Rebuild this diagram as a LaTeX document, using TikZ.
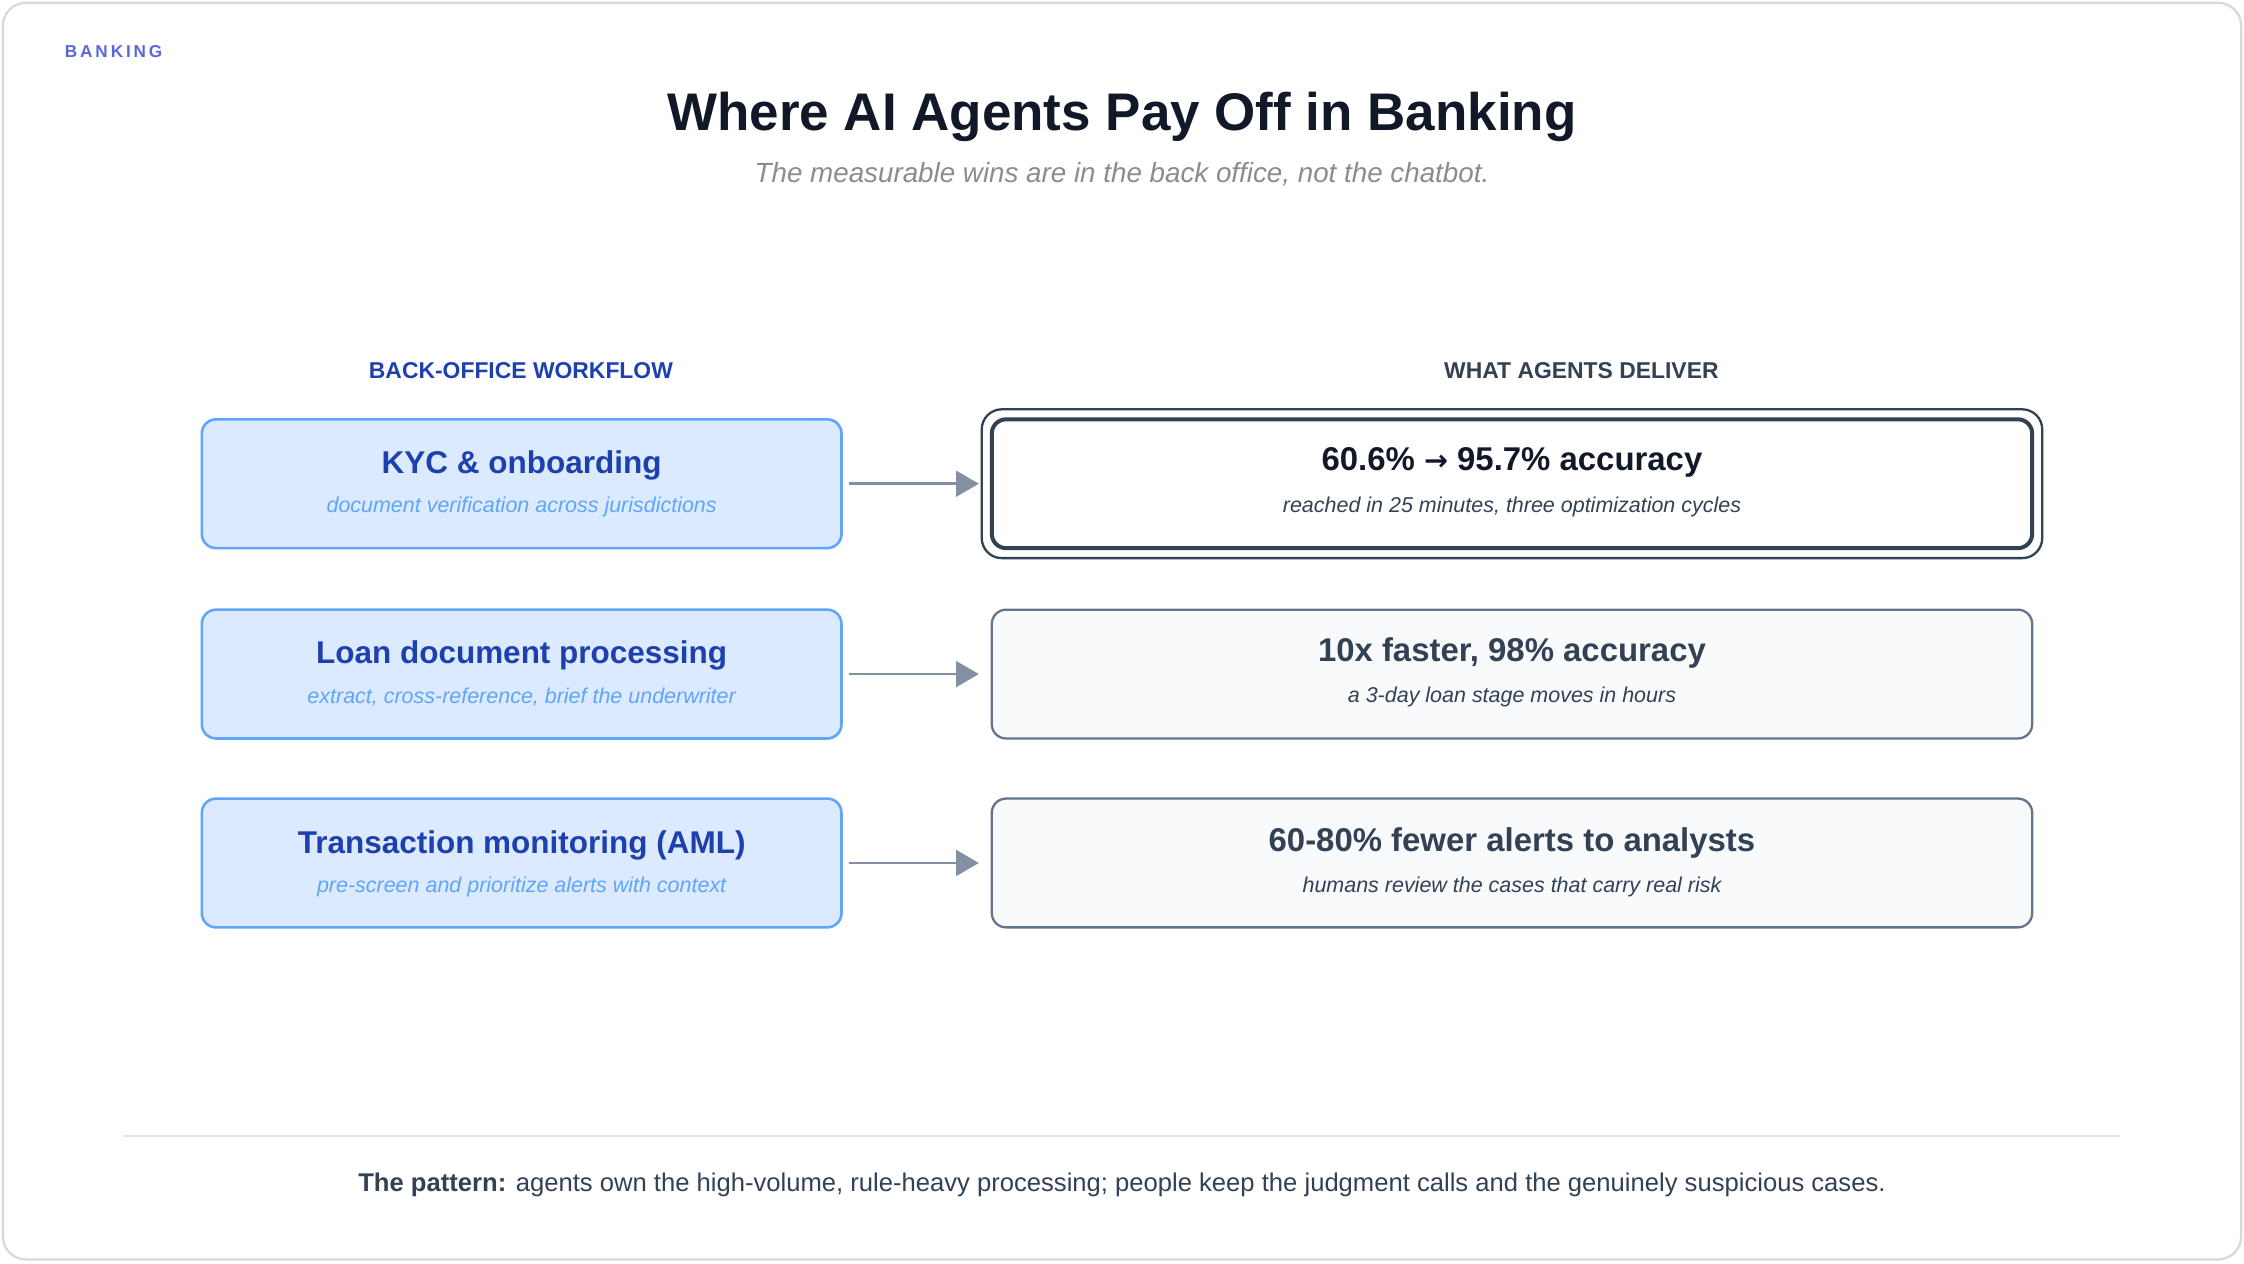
\documentclass[tikz,border=0pt]{standalone}
\usepackage{fontspec}
\setmainfont{Liberation Sans}
\newfontfamily\dvs{DejaVu Sans}
\usetikzlibrary{arrows.meta}
\definecolor{lblue}{HTML}{DBEAFE}
\definecolor{mblue}{HTML}{60A5FA}
\definecolor{dblue}{HTML}{1E40AF}
\definecolor{slate}{HTML}{334155}
\definecolor{gbox}{HTML}{F8FAFC}
\definecolor{gline}{HTML}{64748B}
\definecolor{ink}{HTML}{111827}
\begin{document}
\begin{tikzpicture}[x=0.5pt,y=-0.5pt,
 lbox/.style={draw=mblue,line width=0.9pt,fill=lblue,rounded corners=5pt,minimum width=223.5pt,minimum height=45pt},
 rbox/.style={draw=gline,line width=0.8pt,fill=gbox,rounded corners=5pt,minimum width=363.5pt,minimum height=45pt},
 ltitle/.style={font=\fontsize{11}{13}\selectfont\bfseries,text=dblue},
 lsub/.style={font=\fontsize{7.5}{9}\selectfont\itshape,text=mblue},
 rtitle/.style={font=\fontsize{11.5}{13}\selectfont\bfseries,text=slate},
 rsub/.style={font=\fontsize{7.5}{9}\selectfont\itshape,text=slate},
 arr/.style={draw=gline!80,line width=1pt,-{Triangle[length=8pt,width=9pt]}},
 hdr/.style={font=\fontsize{8}{10}\selectfont\bfseries}]
\useasboundingbox (0,0) rectangle (1568,883);
\draw[draw=black!15,line width=0.8pt,rounded corners=8pt,fill=white] (2,2) rectangle (1566,880);
\node[anchor=west,font=\fontsize{6}{7}\selectfont\bfseries,text=dblue!60!blue!70,inner sep=0] (bk) at (45,36) {B\,A\,N\,K\,I\,N\,G};
\node[font=\fontsize{18.5}{21}\selectfont\bfseries,text=ink] (title) at (784,82) {Where AI Agents Pay Off in Banking};
\node[font=\fontsize{9.7}{11}\selectfont\itshape,text=black!45] (subt) at (784,122) {The measurable wins are in the back office, not the chatbot.};
\node[hdr,text=dblue] (h1) at (364,259) {BACK-OFFICE WORKFLOW};
\node[hdr,text=slate] (h2) at (1105,259) {WHAT AGENTS DELIVER};

\node[lbox] (l1) at (364.5,338) {};
\node[ltitle] at (364.5,325) {KYC \& onboarding};
\node[lsub] at (364.5,354) {document verification across jurisdictions};
\node[lbox] (l2) at (364.5,471) {};
\node[ltitle] at (364.5,458) {Loan document processing};
\node[lsub] at (364.5,487) {extract, cross-reference, brief the underwriter};
\node[lbox] (l3) at (364.5,603) {};
\node[ltitle] at (364.5,591) {Transaction monitoring (AML)};
\node[lsub] at (364.5,620) {pre-screen and prioritize alerts with context};

\draw[draw=slate,line width=0.8pt,rounded corners=7pt] (686,286) rectangle (1427,390);
\node[rbox,draw=slate,line width=1.4pt,fill=white] (r1) at (1056.5,338) {};
\node[rtitle,text=ink] at (1056.5,323) {60.6\% {\dvs\fontsize{10}{12}\selectfont →} 95.7\% accuracy};
\node[rsub] at (1056.5,354) {reached in 25 minutes, three optimization cycles};
\node[rbox] (r2) at (1056.5,471) {};
\node[rtitle] at (1056.5,456) {10x faster, 98\% accuracy};
\node[rsub] at (1056.5,487) {a 3-day loan stage moves in hours};
\node[rbox] (r3) at (1056.5,603) {};
\node[rtitle] at (1056.5,589) {60-80\% fewer alerts to analysts};
\node[rsub] at (1056.5,620) {humans review the cases that carry real risk};

\coordinate (a1) at (684,338); \coordinate (a2) at (684,471); \coordinate (a3) at (684,603);
\draw[arr] ([xshift=2pt]l1.east) -- (a1);
\draw[arr] ([xshift=2pt]l2.east) -- (a2);
\draw[arr] ([xshift=2pt]l3.east) -- (a3);

\draw[black!10,line width=0.6pt] (86,794) -- (1481,794);
\node[font=\fontsize{8.95}{10}\selectfont,text=slate] (foot) at (784,828) {\textbf{The pattern:} agents own the high-volume, rule-heavy processing; people keep the judgment calls and the genuinely suspicious cases.};
\end{tikzpicture}
\end{document}
